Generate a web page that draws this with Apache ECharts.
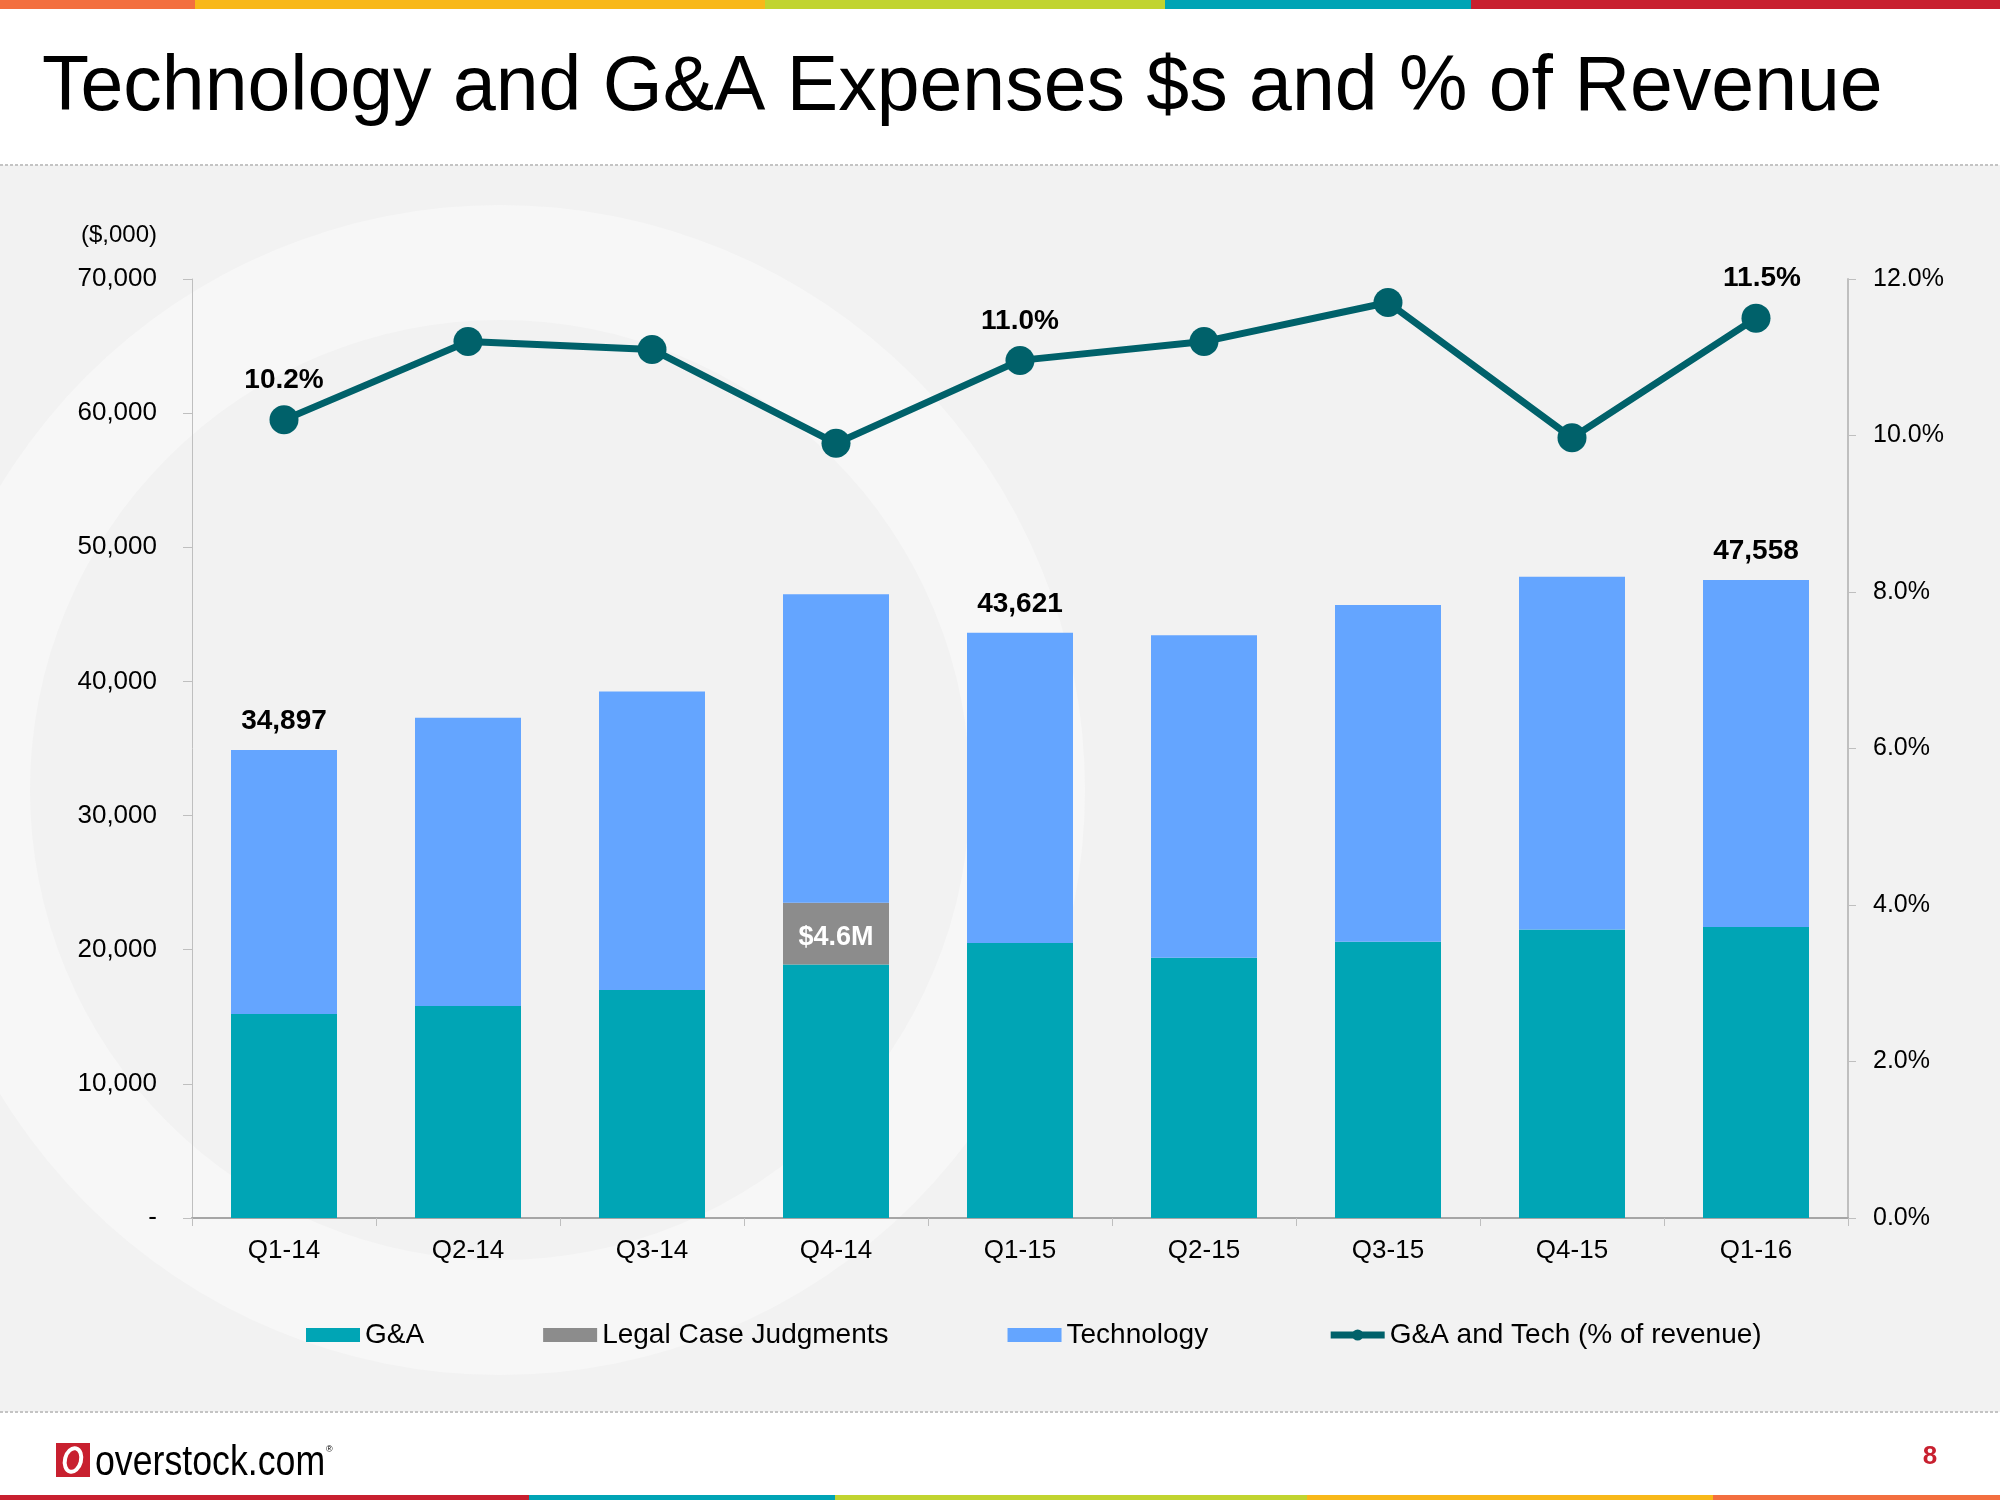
<!DOCTYPE html>
<html>
<head>
<meta charset="utf-8">
<script src="https://cdn.jsdelivr.net/npm/echarts@6/dist/echarts.min.js"></script>
<style>
html,body{margin:0;padding:0;background:#fff;}
#chart{width:2000px;height:1500px;}
</style>
</head>
<body>
<div id="chart"></div>
<script>
var categories = ['Q1-14','Q2-14','Q3-14','Q4-14','Q1-15','Q2-15','Q3-15','Q4-15','Q1-16'];
var gaValues = [15200, 15800, 17000, 18900, 20500, 19400, 20600, 21500, 21700];
var legalValues = [0, 0, 0, 4600, 0, 0, 0, 0, 0];
var techValues = [19697, 21500, 22250, 23000, 23121, 24050, 25100, 26300, 25858];
var pctValues = [10.2, 11.2, 11.1, 9.9, 10.96, 11.2, 11.7, 9.97, 11.5];
var labelIdx = [0, 4, 8];
var leftTicks = { min: 0, max: 70000, interval: 10000 };
var rightTicks = { min: 0, max: 12, interval: 2 };

var FONT = '"Liberation Sans", Arial, sans-serif';

var chart = echarts.init(document.getElementById('chart'), null, {renderer: 'canvas'});

function fmtThousands(v) {
  return String(Math.round(v)).replace(/\B(?=(\d{3})+(?!\d))/g, ',');
}

var techData = techValues.map(function (v, i) {
  var item = { value: v };
  if (labelIdx.indexOf(i) >= 0) {
    item.label = {
      show: true,
      position: 'top',
      distance: 15,
      formatter: function () {
        return fmtThousands(gaValues[i] + legalValues[i] + techValues[i]);
      }
    };
  }
  return item;
});

var pctData = pctValues.map(function (v, i) {
  var item = { value: v };
  if (labelIdx.indexOf(i) >= 0) {
    item.label = {
      show: true,
      position: 'top',
      distance: 11,
      offset: i === 8 ? [6, 0] : [0, 0],
      formatter: function (p) { return p.value.toFixed(1) + '%'; }
    };
  }
  return item;
});

var legalData = legalValues.map(function (v) {
  return {
    value: v,
    label: {
      show: v > 0,
      position: 'inside',
      offset: [0, 4],
      color: '#fff',
      fontWeight: 'bold',
      fontSize: 27,
      fontFamily: FONT,
      formatter: function (p) { return '$' + (p.value / 1000).toFixed(1) + 'M'; }
    }
  };
});

var topBand = [
  {x: 0, w: 195, c: '#F36F3F'},
  {x: 195, w: 570, c: '#F8B819'},
  {x: 765, w: 400, c: '#C1D42F'},
  {x: 1165, w: 306, c: '#00A4B5'},
  {x: 1471, w: 529, c: '#C8202F'}
];
var bottomBand = [
  {x: 0, w: 529, c: '#C8202F'},
  {x: 529, w: 306, c: '#00A4B5'},
  {x: 835, w: 472, c: '#C1D42F'},
  {x: 1307, w: 406, c: '#F8B819'},
  {x: 1713, w: 287, c: '#F36F3F'}
];

var graphics = [
  { type: 'rect', z: -10, shape: {x: 0, y: 165, width: 2000, height: 1247}, style: {fill: '#F2F2F2'} },
  { type: 'ring', z: -9, shape: {cx: 500, cy: 790, r: 585, r0: 470}, style: {fill: '#F7F7F7'} },
  { type: 'line', z: -8, shape: {x1: 0, y1: 165, x2: 2000, y2: 165}, style: {stroke: '#C4C4C4', lineWidth: 2, lineDash: [3, 2]} },
  { type: 'line', z: -8, shape: {x1: 0, y1: 1412, x2: 2000, y2: 1412}, style: {stroke: '#C4C4C4', lineWidth: 2, lineDash: [3, 2]} },
  { type: 'text', x: 42, y: 89, style: {text: 'Technology and G&A Expenses $s and % of Revenue', font: '77px ' + FONT, fill: '#000', textVerticalAlign: 'middle'} },
  { type: 'text', x: 157, y: 235, style: {text: '($,000)', font: '24px ' + FONT, fill: '#000', textAlign: 'right', textVerticalAlign: 'middle'} },
  { type: 'rect', shape: {x: 56, y: 1443, width: 34, height: 34}, style: {fill: '#C8202F'} },
  { type: 'ellipse', shape: {cx: 73, cy: 1460, rx: 8, ry: 12}, rotation: -0.25, originX: 73, originY: 1460, style: {fill: 'none', stroke: '#fff', lineWidth: 4} },
  { type: 'text', x: 95, y: 1463, scaleX: 0.85, originX: 0, originY: 0, style: {text: 'overstock.com', font: '42px ' + FONT, fill: '#000', textVerticalAlign: 'middle'} },
  { type: 'text', x: 326, y: 1450, style: {text: '®', font: '9px ' + FONT, fill: '#000', textVerticalAlign: 'middle'} },
  { type: 'text', x: 1930, y: 1457, style: {text: '8', font: 'bold 26px ' + FONT, fill: '#C8202F', textAlign: 'center', textVerticalAlign: 'middle'} }
];
topBand.forEach(function (b) {
  graphics.push({ type: 'rect', shape: {x: b.x, y: 0, width: b.w, height: 9}, style: {fill: b.c} });
});
bottomBand.forEach(function (b) {
  graphics.push({ type: 'rect', shape: {x: b.x, y: 1495, width: b.w, height: 5}, style: {fill: b.c} });
});

var option = {
  animation: false,
  backgroundColor: '#ffffff',
  textStyle: { fontFamily: FONT },
  graphic: { elements: graphics },
  grid: { left: 192, right: 152, top: 279, bottom: 282, containLabel: false },
  legend: {
    left: 301,
    top: 1316,
    itemWidth: 54,
    itemHeight: 14,
    itemGap: 119,
    textStyle: { fontSize: 28, color: '#000', fontFamily: FONT },
    data: [
      { name: 'G&A', icon: 'rect' },
      { name: 'Legal Case Judgments', icon: 'rect' },
      { name: 'Technology', icon: 'rect' },
      { name: 'G&A and Tech (% of revenue)', lineStyle: { width: 7, color: '#00616A' } }
    ]
  },
  xAxis: {
    type: 'category',
    data: categories,
    axisLine: { lineStyle: { color: '#A6A6A6', width: 2 } },
    axisTick: { show: true, alignWithLabel: false, length: 8, lineStyle: { color: '#BFBFBF' } },
    axisLabel: { fontSize: 26, color: '#000', margin: 20, fontFamily: FONT },
    splitLine: { show: false }
  },
  yAxis: [
    {
      type: 'value',
      min: leftTicks.min, max: leftTicks.max, interval: leftTicks.interval,
      axisLine: { show: true, lineStyle: { color: '#BFBFBF', width: 1 } },
      axisTick: { show: true, length: 9, lineStyle: { color: '#BFBFBF' } },
      splitLine: { show: false },
      axisLabel: {
        fontSize: 26, color: '#000', margin: 35, fontFamily: FONT,
        formatter: function (v) { return v === 0 ? '-' : fmtThousands(v); }
      }
    },
    {
      type: 'value',
      position: 'right',
      min: rightTicks.min, max: rightTicks.max, interval: rightTicks.interval,
      axisLine: { show: true, lineStyle: { color: '#BFBFBF', width: 2 } },
      axisTick: { show: true, length: 8, lineStyle: { color: '#BFBFBF' } },
      splitLine: { show: false },
      axisLabel: {
        fontSize: 25, color: '#000', margin: 25, fontFamily: FONT,
        formatter: function (v) { return v.toFixed(1) + '%'; }
      }
    }
  ],
  series: [
    {
      name: 'G&A', type: 'bar', stack: 'total', barWidth: 106,
      itemStyle: { color: '#00A5B5' },
      data: gaValues
    },
    {
      name: 'Legal Case Judgments', type: 'bar', stack: 'total', barWidth: 106,
      itemStyle: { color: '#8C8C8C' },
      data: legalData
    },
    {
      name: 'Technology', type: 'bar', stack: 'total', barWidth: 106,
      itemStyle: { color: '#64A5FF' },
      label: { color: '#000', fontWeight: 'bold', fontSize: 28, fontFamily: FONT },
      data: techData
    },
    {
      name: 'G&A and Tech (% of revenue)', type: 'line', yAxisIndex: 1,
      symbol: 'circle', symbolSize: 29,
      lineStyle: { color: '#00616A', width: 7 },
      itemStyle: { color: '#00616A' },
      label: { color: '#000', fontWeight: 'bold', fontSize: 28, fontFamily: FONT },
      z: 5,
      data: pctData
    }
  ]
};

chart.setOption(option);
</script>
</body>
</html>
